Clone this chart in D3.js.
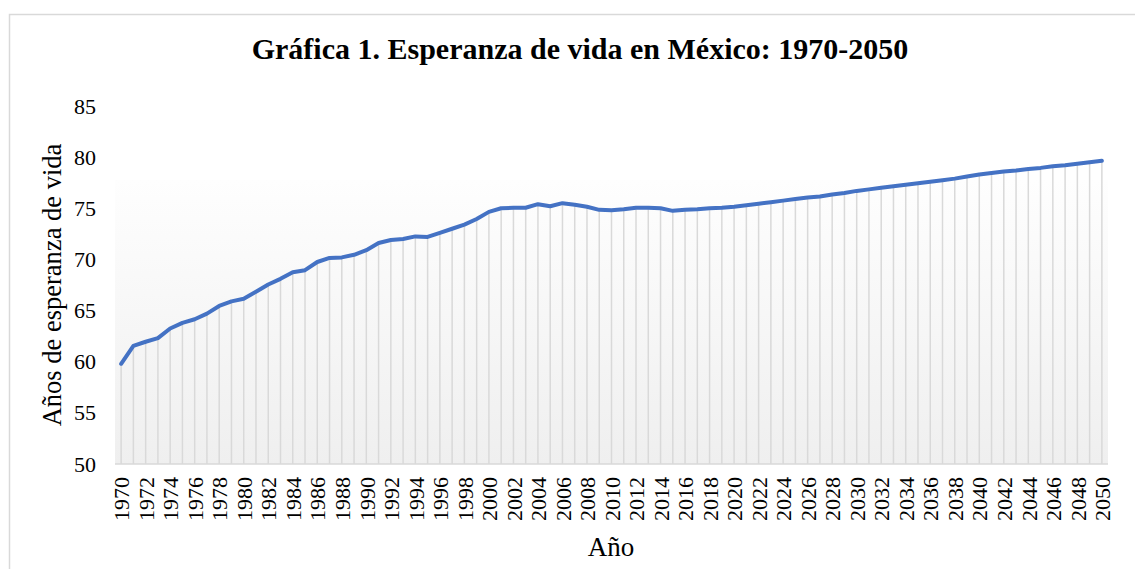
<!DOCTYPE html>
<html>
<head>
  <meta charset="utf-8">
  <title>Esperanza de vida en México</title>
  <style>
    body { margin: 0; background: #fff; }
    text { font-family: 'Liberation Serif', 'Times New Roman', serif; fill: #000; }
  </style>
</head>
<body>
  <div id='chart'></div>
  <script src="https://d3js.org/d3.v7.min.js"></script>
  <script>

    function translate(x, y) {
      return 'translate(' + x + ',' + y + ')';
    }

    // años 1970-2050
    let years = [];
    for (let y = 1970; y <= 2050; y++) years.push(y);

    // esperanza de vida
    let lifeExp = [
      59.8, 61.55, 61.95, 62.3, 63.25, 63.8, 64.15, 64.7, 65.45, 65.9,   // 1970-1979
      66.15, 66.85, 67.55, 68.1, 68.75, 68.95, 69.75, 70.15, 70.2, 70.45, // 1980-1989
      70.9, 71.6, 71.9, 72.0, 72.25, 72.2, 72.6, 73.0, 73.4, 73.95,       // 1990-1999
      74.65, 75.0, 75.05, 75.05, 75.4, 75.2, 75.5, 75.35, 75.15, 74.85,   // 2000-2009
      74.8, 74.9, 75.05, 75.05, 75.0, 74.75, 74.85, 74.9, 75.0, 75.05,    // 2010-2019
      75.15, 75.3, 75.45, 75.6, 75.75, 75.9, 76.05, 76.15, 76.35, 76.5,   // 2020-2029
      76.7, 76.85, 77.0, 77.15, 77.3, 77.45, 77.6, 77.75, 77.9, 78.1,     // 2030-2039
      78.3, 78.45, 78.6, 78.7, 78.85, 78.95, 79.1, 79.2, 79.35, 79.5,     // 2040-2049
      79.65                                                               // 2050
    ];

    let yTicks = [50, 55, 60, 65, 70, 75, 80, 85];

    let data = years.map((y, i) => ({year: y, value: lifeExp[i]}));

    let svgWidth = 1135;
    let svgHeight = 569;
    let plot = {left: 115, right: 1108, top: 106, bottom: 464};

    let svg = d3.select('#chart')
      .append('svg')
      .attr('width', svgWidth)
      .attr('height', svgHeight);

    // marco exterior
    svg.append('rect')
      .attr('x', 9.5).attr('y', 14.5)
      .attr('width', 1140).attr('height', 600)
      .attr('fill', 'none')
      .attr('stroke', '#d9d9d9')
      .attr('stroke-width', 1.5);

    let x = d3.scalePoint()
      .domain(years)
      .range([plot.left, plot.right])
      .padding(0.5);

    let y = d3.scaleLinear()
      .domain([50, 85])
      .range([plot.bottom, plot.top]);

    // fondo degradado del área de trazado
    let grad = svg.append('defs').append('linearGradient')
      .attr('id', 'bg').attr('x1', 0).attr('y1', 0).attr('x2', 0).attr('y2', 1);
    grad.append('stop').attr('offset', '0%').attr('stop-color', '#fefefe');
    grad.append('stop').attr('offset', '100%').attr('stop-color', '#efefef');

    svg.append('rect')
      .attr('x', plot.left)
      .attr('y', 180)
      .attr('width', plot.right - plot.left)
      .attr('height', plot.bottom - 180)
      .attr('fill', 'url(#bg)');

    // líneas de unión
    svg.selectAll('.drop')
      .data(data)
      .enter()
      .append('line')
      .attr('class', 'drop')
      .attr('x1', d => x(d.year))
      .attr('x2', d => x(d.year))
      .attr('y1', d => y(d.value))
      .attr('y2', plot.bottom)
      .attr('stroke', '#d9d9d9')
      .attr('stroke-width', 1.5);

    // eje horizontal
    svg.append('line')
      .attr('x1', plot.left).attr('x2', plot.right)
      .attr('y1', plot.bottom).attr('y2', plot.bottom)
      .attr('stroke', '#d9d9d9')
      .attr('stroke-width', 1.5);

    // serie
    let line = d3.line()
      .x(d => x(d.year))
      .y(d => y(d.value));

    svg.append('path')
      .datum(data)
      .attr('d', line)
      .attr('fill', 'none')
      .attr('stroke', '#4472c4')
      .attr('stroke-width', 4)
      .attr('stroke-linejoin', 'round')
      .attr('stroke-linecap', 'round');

    // eje y
    let yAxis = svg.append('g')
      .attr('transform', translate(plot.left, 0))
      .call(d3.axisLeft(y).tickValues(yTicks).tickSize(0).tickPadding(19));
    yAxis.select('.domain').remove();
    yAxis.selectAll('text')
      .style('font-family', "'Liberation Serif', serif")
      .style('font-size', '22px')
      .attr('fill', '#000');

    // eje x, etiquetas cada dos años
    let xAxis = svg.append('g')
      .attr('transform', translate(0, plot.bottom))
      .call(d3.axisBottom(x).tickValues(years.filter(d => d % 2 === 0)).tickSize(0));
    xAxis.select('.domain').remove();
    xAxis.selectAll('text')
      .style('font-family', "'Liberation Serif', serif")
      .style('font-size', '22px')
      .attr('fill', '#000')
      .attr('transform', 'rotate(-90)')
      .attr('text-anchor', 'end')
      .attr('x', -13)
      .attr('y', 0)
      .attr('dy', '0.35em');

    // títulos
    svg.append('text')
      .attr('x', 580)
      .attr('y', 59)
      .attr('text-anchor', 'middle')
      .style('font-size', '30px')
      .style('font-weight', 'bold')
      .text('Gráfica 1. Esperanza de vida en México: 1970-2050');

    svg.append('text')
      .attr('transform', translate(61, 285) + ' rotate(-90)')
      .attr('text-anchor', 'middle')
      .style('font-size', '26.5px')
      .text('Años de esperanza de vida');

    svg.append('text')
      .attr('x', 611)
      .attr('y', 556)
      .attr('text-anchor', 'middle')
      .style('font-size', '27px')
      .text('Año');

  </script>
</body>
</html>
